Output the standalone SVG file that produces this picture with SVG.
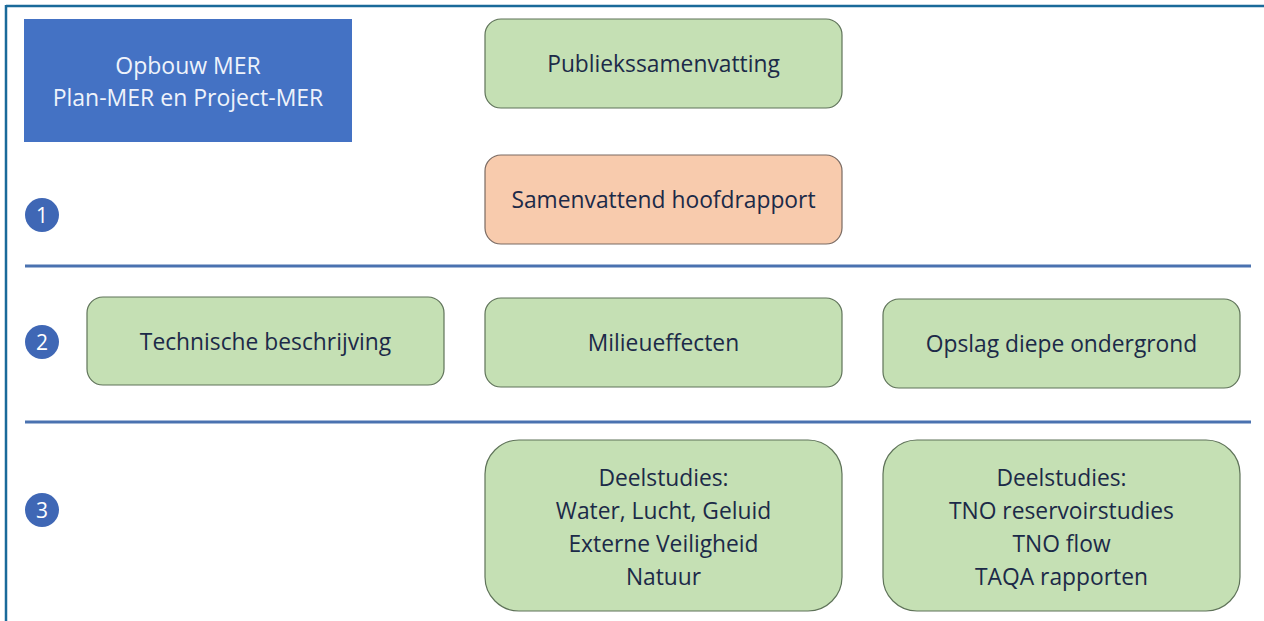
<svg xmlns="http://www.w3.org/2000/svg" width="1264" height="621" viewBox="0 0 1264 621">
<style>
text{font-family:"Open Sans","Noto Sans","Liberation Sans",sans-serif;font-size:22.8px;fill:#1c2a48;text-anchor:middle;dominant-baseline:central}
.g{fill:#c5e0b4;stroke:#5f7359;stroke-width:1.2}
.o{fill:#f8cbad;stroke:#7a6a62;stroke-width:1.2}
.sep{stroke:#4a72b0;stroke-width:3}
.c{fill:#3f67b5}
.ct{fill:#ffffff;font-size:21px}
.w{fill:#eef3fb;font-size:23px}
</style>
<rect width="1264" height="621" fill="#ffffff"/>
<g id="frame">
<line x1="6" y1="6" x2="1264" y2="6" stroke="#1a6a9a" stroke-width="2.5"/>
<line x1="6" y1="5" x2="6" y2="621" stroke="#1a6a9a" stroke-width="2.5"/>
</g>
<g id="separators">
<line class="sep" x1="25" y1="266" x2="1251" y2="266"/>
<line class="sep" x1="25" y1="422" x2="1251" y2="422"/>
</g>
<g id="title">
<rect x="24" y="19" width="328" height="123" fill="#4472c4"/>
<text class="w" x="188" y="65">Opbouw MER</text>
<text class="w" x="188" y="97">Plan-MER en Project-MER</text>
</g>
<g id="n1">
<circle class="c" cx="42" cy="215" r="17"/>
<text class="ct" x="42" y="215">1</text>
</g>
<g id="n2">
<circle class="c" cx="42" cy="342" r="17"/>
<text class="ct" x="42" y="342">2</text>
</g>
<g id="n3">
<circle class="c" cx="42" cy="510" r="17"/>
<text class="ct" x="42" y="510">3</text>
</g>
<g id="publiekssamenvatting">
<rect class="g" x="485" y="19" width="357" height="89" rx="16"/>
<text x="663.5" y="63">Publiekssamenvatting</text>
</g>
<g id="hoofdrapport">
<rect class="o" x="485" y="155" width="357" height="89" rx="16"/>
<text x="663.5" y="199">Samenvattend hoofdrapport</text>
</g>
<g id="technische">
<rect class="g" x="87" y="297" width="357" height="88" rx="16"/>
<text x="265.5" y="341">Technische beschrijving</text>
</g>
<g id="milieueffecten">
<rect class="g" x="485" y="298" width="357" height="89" rx="16"/>
<text x="663.5" y="342">Milieueffecten</text>
</g>
<g id="opslag">
<rect class="g" x="883" y="299" width="357" height="89" rx="16"/>
<text x="1061.5" y="343">Opslag diepe ondergrond</text>
</g>
<g id="deelstudies1">
<rect class="g" x="485" y="440" width="357" height="171" rx="34"/>
<text x="663.5" y="477">Deelstudies:</text>
<text x="663.5" y="510">Water, Lucht, Geluid</text>
<text x="663.5" y="543">Externe Veiligheid</text>
<text x="663.5" y="576">Natuur</text>
</g>
<g id="deelstudies2">
<rect class="g" x="883" y="440" width="357" height="171" rx="34"/>
<text x="1061.5" y="477">Deelstudies:</text>
<text x="1061.5" y="510">TNO reservoirstudies</text>
<text x="1061.5" y="543">TNO flow</text>
<text x="1061.5" y="576">TAQA rapporten</text>
</g>
<g id="connectors"></g>
</svg>
